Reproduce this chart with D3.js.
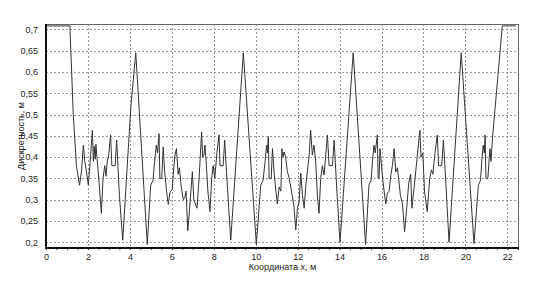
<!DOCTYPE html>
<html>
<head>
<meta charset="utf-8">
<script src="https://cdn.jsdelivr.net/npm/d3@7"></script>
<style>
  body { margin: 0; background: #fff; }
  text { font-family: "Liberation Sans", Arial, sans-serif; }
</style>
</head>
<body>
<div id="chart"></div>
<script>

// Chart size and margins (plot box from x=46..519, y=24..248)
const width = 535;
const height = 283;
const margin = {left: 46, right: 16, top: 24, bottom: 35};

// tick values
const xTicks = [0, 2, 4, 6, 8, 10, 12, 14, 16, 18, 20, 22];
const yTicks = [0.2, 0.25, 0.3, 0.35, 0.4, 0.45, 0.5, 0.55, 0.6, 0.65, 0.7];

// coordinate x, m
const xs = [
  0, 1.14, 1.3, 1.45, 1.6, 1.7, 1.78, 1.85, 1.92, 2.02, 2.12, 2.21, 2.26, 2.3, 2.35, 2.38, 2.43, 2.5,
  2.64, 2.72, 2.8, 2.86, 2.92, 2.98, 3.08, 3.14, 3.3, 3.37, 3.5, 3.66, 3.9, 4.05, 4.28,
  4.83, 4.99, 5.1, 5.18, 5.26, 5.32, 5.39, 5.43, 5.52, 5.59, 5.65, 5.75, 5.83, 5.92, 6.02, 6.07,
  6.15, 6.22, 6.3, 6.36, 6.45, 6.55, 6.62, 6.68, 6.76, 6.85, 6.98, 7.05, 7.2, 7.3, 7.42, 7.47,
  7.53, 7.58, 7.65, 7.72, 7.82, 7.9, 7.97, 8.05, 8.15, 8.25, 8.3, 8.45, 8.52, 8.65, 8.81, 9.41,
  10.03, 10.24, 10.35, 10.45, 10.52, 10.56, 10.6, 10.64, 10.74, 10.8, 10.9, 11.03, 11.12, 11.2,
  11.25, 11.3, 11.35, 11.43, 11.51, 11.6, 11.74, 11.82, 11.91, 11.99, 12.07, 12.15, 12.23, 12.31,
  12.39, 12.55, 12.62, 12.7, 12.78, 12.86, 12.94, 13.02, 13.1, 13.18, 13.26, 13.42, 13.5, 13.66,
  13.74, 13.86, 14.02, 14.65,
  15.24, 15.4, 15.5, 15.57, 15.64, 15.7, 15.8, 15.84, 15.88, 15.93, 16.05, 16.2, 16.28, 16.36,
  16.45, 16.52, 16.6, 16.68, 16.76, 16.9, 17.0, 17.1, 17.2, 17.3, 17.39, 17.45, 17.6, 17.7, 17.83,
  17.88, 17.97, 18.05, 18.18, 18.3, 18.38, 18.45, 18.55, 18.66, 18.72, 18.87, 18.95, 19.08, 19.22,
  19.8, 20.41, 20.62, 20.72, 20.78, 20.85, 20.9, 20.94, 20.98, 21.07, 21.17, 21.22, 21.3, 21.76, 22.4
];

// discreteness, m
const values = [
  0.708, 0.708, 0.5, 0.38, 0.334, 0.37, 0.428, 0.39, 0.37, 0.334, 0.4, 0.463, 0.39, 0.425, 0.395, 0.43, 0.4, 0.36,
  0.268, 0.35, 0.38, 0.355, 0.39, 0.4, 0.452, 0.38, 0.38, 0.44, 0.31, 0.205, 0.4, 0.52, 0.645,
  0.195, 0.334, 0.345, 0.39, 0.428, 0.41, 0.455, 0.35, 0.35, 0.424, 0.37, 0.32, 0.289, 0.319, 0.323, 0.36,
  0.405, 0.42, 0.36, 0.375, 0.33, 0.3, 0.305, 0.32, 0.227, 0.28, 0.366, 0.3, 0.28, 0.35, 0.459, 0.4,
  0.405, 0.428, 0.38, 0.32, 0.272, 0.35, 0.38, 0.35, 0.41, 0.452, 0.38, 0.38, 0.44, 0.33, 0.205, 0.645,
  0.195, 0.334, 0.345, 0.39, 0.428, 0.41, 0.448, 0.35, 0.35, 0.42, 0.35, 0.29, 0.33, 0.32,
  0.42, 0.4, 0.412, 0.4, 0.366, 0.35, 0.31, 0.287, 0.229, 0.28, 0.295, 0.362, 0.31, 0.28,
  0.334, 0.405, 0.463, 0.405, 0.428, 0.39, 0.31, 0.268, 0.35, 0.38, 0.358, 0.452, 0.38, 0.38,
  0.44, 0.33, 0.2, 0.645,
  0.195, 0.334, 0.345, 0.39, 0.428, 0.41, 0.452, 0.35, 0.35, 0.42, 0.35, 0.29, 0.315, 0.32,
  0.36, 0.38, 0.42, 0.365, 0.375, 0.31, 0.29, 0.225, 0.28, 0.34, 0.36, 0.28, 0.35, 0.4, 0.463,
  0.4, 0.41, 0.32, 0.272, 0.35, 0.37, 0.36, 0.41, 0.452, 0.38, 0.38, 0.44, 0.33, 0.2,
  0.645, 0.197, 0.334, 0.345, 0.39, 0.428, 0.41, 0.452, 0.35, 0.35, 0.42, 0.39, 0.45, 0.708, 0.708
];

const data = xs.map((x, i) => ({x: x, v: values[i]}));

const svg = d3.select("#chart")
  .append("svg")
  .attr("width", width)
  .attr("height", height);

// scales
const xScale = d3.scaleLinear()
  .domain([0, 22.556])
  .range([margin.left, width - margin.right]);

const yScale = d3.scaleLinear()
  .domain([0.18664, 0.71244])
  .range([height - margin.bottom, margin.top]);

const comma = d => String(d).replace(".", ",");

// dotted grid
svg.append("g")
  .selectAll("line")
  .data(yTicks)
  .enter()
  .append("line")
    .attr("x1", margin.left)
    .attr("x2", width - margin.right)
    .attr("y1", d => Math.round(yScale(d)) + 0.5)
    .attr("y2", d => Math.round(yScale(d)) + 0.5)
    .attr("stroke", "#999")
    .attr("stroke-dasharray", "2,2");

svg.append("g")
  .selectAll("line")
  .data(xTicks.slice(1))
  .enter()
  .append("line")
    .attr("x1", d => Math.round(xScale(d)) + 0.5)
    .attr("x2", d => Math.round(xScale(d)) + 0.5)
    .attr("y1", margin.top)
    .attr("y2", height - margin.bottom)
    .attr("stroke", "#999")
    .attr("stroke-dasharray", "2,2");

// top and right frame
svg.append("path")
  .attr("d", `M${margin.left},${margin.top + 0.5}H${width - margin.right - 0.5}V${height - margin.bottom}`)
  .attr("fill", "none")
  .attr("stroke", "#666");

// the curve
const line = d3.line()
  .x(d => xScale(d.x))
  .y(d => yScale(d.v));

svg.append("path")
  .datum(data)
  .attr("d", line)
  .attr("fill", "none")
  .attr("stroke", "#333")
  .attr("stroke-width", 1);

// x axis with minor ticks every 0.5
svg.append("g")
  .attr("transform", `translate(0,${height - margin.bottom})`)
  .call(d3.axisBottom(xScale).tickValues(d3.range(0, 22.6, 0.5)).tickSize(2).tickFormat(""))
  .call(g => g.select(".domain").remove())
  .selectAll("line").attr("stroke", "#444");

svg.append("g")
  .attr("transform", `translate(0,${height - margin.bottom})`)
  .call(d3.axisBottom(xScale).tickValues(xTicks).tickSize(0).tickPadding(6).tickFormat(d => d))
  .call(g => g.select(".domain").remove())
  .selectAll("text")
    .attr("font-size", "9px")
    .attr("fill", "#222");

// y axis
svg.append("g")
  .attr("transform", `translate(${margin.left},0)`)
  .call(d3.axisLeft(yScale).tickValues(yTicks).tickSize(0).tickPadding(8).tickFormat(comma))
  .call(g => g.select(".domain").remove())
  .selectAll("text")
    .attr("font-size", "9px")
    .attr("fill", "#222");

// heavy left and bottom axis lines
svg.append("path")
  .attr("d", `M${margin.left},${margin.top}V${height - margin.bottom}H${width - margin.right}`)
  .attr("fill", "none")
  .attr("stroke", "#111")
  .attr("stroke-width", 2);

// axis titles
svg.append("text")
  .attr("x", (margin.left + width - margin.right) / 2)
  .attr("y", 270)
  .attr("text-anchor", "middle")
  .attr("font-size", "9px")
  .attr("fill", "#222")
  .text("Координата x, м");

svg.append("text")
  .attr("transform", `translate(24,${(margin.top + height - margin.bottom) / 2}) rotate(-90)`)
  .attr("text-anchor", "middle")
  .attr("font-size", "9px")
  .attr("fill", "#222")
  .text("Дискретность, м");

</script>
</body>
</html>
